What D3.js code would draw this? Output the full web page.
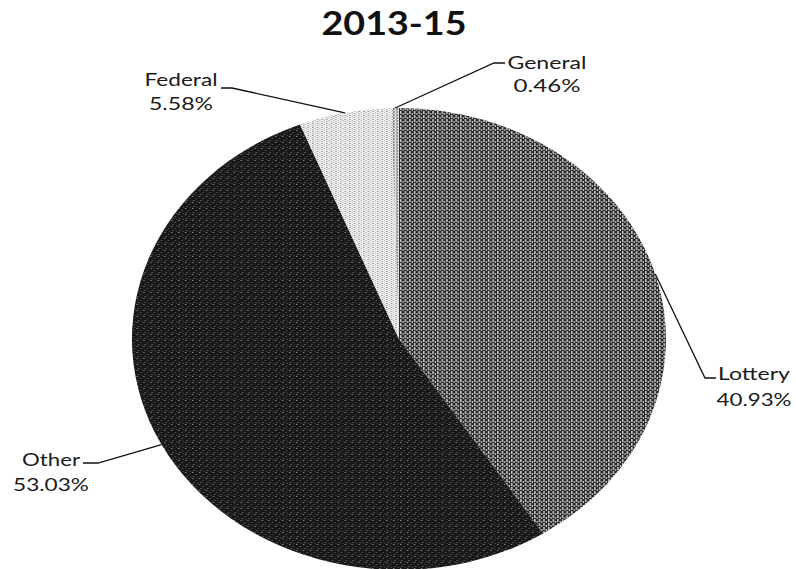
<!DOCTYPE html>
<html>
<head>
<meta charset="utf-8">
<script src="https://cdn.jsdelivr.net/npm/d3@7/dist/d3.min.js"></script>
<style>
  html, body { margin: 0; padding: 0; background: #fff; }
  svg { display: block; }
</style>
</head>
<body>
<svg id="chart" width="796" height="569"></svg>
<script>
// ---- data ----
const chartTitle = "2013-15";
const categories = ["Lottery", "Other", "Federal", "General"];
const values = [40.93, 53.03, 5.58, 0.46];
const valueLabels = ["40.93%", "53.03%", "5.58%", "0.46%"];

// ---- layout ----
const W = 796, H = 569;
const cx = 399, cy = 339, r = 231, sx = 1.156;
const svg = d3.select("#chart");
const defs = svg.append("defs");

// patterns
function makePattern(id, w, h, bg, marks) {
  const p = defs.append("pattern").attr("id", id)
    .attr("patternUnits", "userSpaceOnUse").attr("width", w).attr("height", h);
  p.append("rect").attr("width", w).attr("height", h).attr("fill", bg);
  marks.forEach(m => p.append("rect").attr("x", m[0]).attr("y", m[1])
    .attr("width", m[2]).attr("height", m[3]).attr("fill", m[4]));
}
makePattern("pLottery", 4, 4, "#262626", [[1, 0, 1, 3, "#ffffff"], [3, 2, 1, 2, "#d0d0d0"]]);
makePattern("pOther", 6, 6, "#181818", [[1, 1, 1, 1, "#a0a0a0"], [4, 3, 1, 1, "#606060"], [2, 5, 1, 1, "#787878"], [5, 0, 1, 1, "#484848"]]);
makePattern("pFederal", 4, 4, "#f4f4f4", [[1, 0, 1, 1, "#6a6a6a"], [1, 2, 1, 1, "#8a8a8a"], [3, 1, 1, 1, "#a8a8a8"], [3, 3, 1, 1, "#c0c0c0"]]);
makePattern("pGeneral", 3, 3, "#e8e8e8", [[1, 0, 1, 2, "#555"], [0, 2, 1, 1, "#999"]]);
const fills = { Lottery: "url(#pLottery)", Other: "url(#pOther)", Federal: "url(#pFederal)", General: "url(#pGeneral)" };

const pie = d3.pie().sort(null).value(d => d);
const arcs = pie(values);
const arc = d3.arc().innerRadius(0).outerRadius(r);

const gPie = svg.append("g").attr("transform", `translate(${cx},${cy}) scale(${sx},1)`);
gPie.selectAll("path").data(arcs).join("path")
  .attr("d", arc)
  .attr("fill", (d, i) => fills[categories[i]]);

// title
svg.append("text")
  .attr("x", 394).attr("y", 35)
  .attr("text-anchor", "middle")
  .attr("font-family", "Lato, 'Open Sans', sans-serif")
  .attr("font-weight", "bold")
  .attr("font-size", 32)
  .attr("textLength", 145).attr("lengthAdjust", "spacingAndGlyphs")
  .attr("fill", "#111")
  .text(chartTitle);

// label layout (per category): elbow, hook end, text center x, baselines, widths
const labelLayout = {
  Lottery: { elbow: [705, 378], hook: [716, 378], tx: 754, y1: 380, y2: 406, w1: 72, w2: 75 },
  Other:   { elbow: [98, 463],  hook: [83, 463],  tx: 51,  y1: 466, y2: 491, w1: 58, w2: 76 },
  Federal: { elbow: [232, 88],  hook: [221, 88],  tx: 181, y1: 86,  y2: 110, w1: 73, w2: 64 },
  General: { elbow: [494, 63],  hook: [505, 63],  tx: 547, y1: 69,  y2: 92,  w1: 79, w2: 67 }
};

arcs.forEach((a, i) => {
  const cat = categories[i];
  const L = labelLayout[cat];
  const ang = (a.startAngle + a.endAngle) / 2;
  const px = cx + sx * r * Math.sin(ang);
  const py = cy - r * Math.cos(ang);
  svg.append("path")
    .attr("d", d3.line()([[px, py], L.elbow, L.hook]))
    .attr("fill", "none").attr("stroke", "#111").attr("stroke-width", 1.3);
  const t = svg.append("g").attr("font-family", "Lato, 'Open Sans', sans-serif")
    .attr("font-size", 18).attr("fill", "#1a1a1a").attr("text-anchor", "middle");
  t.append("text").attr("x", L.tx).attr("y", L.y1)
    .attr("textLength", L.w1).attr("lengthAdjust", "spacingAndGlyphs").text(cat);
  t.append("text").attr("x", L.tx).attr("y", L.y2)
    .attr("textLength", L.w2).attr("lengthAdjust", "spacingAndGlyphs").text(valueLabels[i]);
});
</script>
</body>
</html>
